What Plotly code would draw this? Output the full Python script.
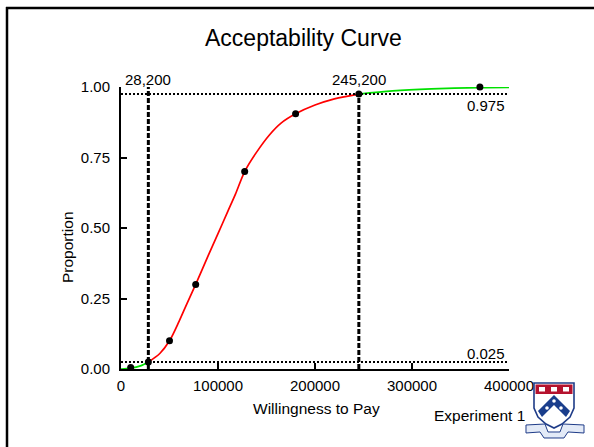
import plotly.graph_objects as go

# ---------------- data ----------------
# fitted acceptability curve
curve_x = [0, 10000, 20000, 28200, 40000, 50000, 60000, 68000, 77000, 90000,
           100000, 110000, 118000, 127500, 140000, 153000, 165000, 180000,
           200000, 220000, 245200, 280000, 320000, 370000, 400000]
curve_y = [0.0, 0.003, 0.011, 0.025, 0.055, 0.10, 0.17, 0.232, 0.30, 0.403,
           0.48, 0.558, 0.62, 0.70, 0.77, 0.83, 0.872, 0.905,
           0.936, 0.958, 0.975, 0.986, 0.993, 0.998, 0.999]
# observed points
pts_x = [10000, 28200, 50000, 77000, 127500, 180000, 245200, 370000]
pts_y = [0.005, 0.025, 0.10, 0.30, 0.70, 0.905, 0.975, 1.0]
# thresholds
lo_x, hi_x = 28200, 245200
lo_p, hi_p = 0.025, 0.975
lo_label, hi_label = "28,200", "245,200"
x_ticks = [0, 100000, 200000, 300000, 400000]
y_ticks = [0.0, 0.25, 0.50, 0.75, 1.00]
y_tick_text = ["0.00", "0.25", "0.50", "0.75", "1.00"]

FONT = "Arial, Liberation Sans, sans-serif"
W, H = 594, 447
ML, MR, MT, MB = 121, 85, 87, 78
X0, X1, Y0, Y1 = ML, W - MR, H - MB, MT


def px(v):
    return (v - X0) / (X1 - X0)


def py(v):
    return (Y0 - v) / (Y0 - Y1)


def path(points, close=True):
    s = "M " + " L ".join(f"{px(a):.5f},{py(b):.5f}" for a, b in points)
    return s + (" Z" if close else "")


fig = go.Figure()

# split curve into green / red / green
i_lo = curve_x.index(lo_x)
i_hi = curve_x.index(hi_x)
segs = [(0, i_lo, "#00e000"), (i_lo, i_hi, "#ff0000"), (i_hi, len(curve_x) - 1, "#00e000")]
for a, b, col in segs:
    fig.add_trace(go.Scatter(x=curve_x[a:b + 1], y=curve_y[a:b + 1], mode="lines",
                             line=dict(color=col, width=1.7, shape="spline", smoothing=0.9),
                             cliponaxis=False, hoverinfo="skip", showlegend=False))

# dotted horizontal probability lines
for p in (lo_p, hi_p):
    fig.add_trace(go.Scatter(x=[x_ticks[0], x_ticks[-1]], y=[p, p], mode="lines",
                             line=dict(color="black", width=2, dash="2px,2px"),
                             hoverinfo="skip", showlegend=False))

# dashed vertical threshold lines
fig.add_trace(go.Scatter(x=[lo_x, lo_x], y=[0, 1.0], mode="lines",
                         line=dict(color="black", width=3, dash="5px,2px"),
                         hoverinfo="skip", showlegend=False))
fig.add_trace(go.Scatter(x=[hi_x, hi_x], y=[0, hi_p], mode="lines",
                         line=dict(color="black", width=3, dash="5px,2px"),
                         hoverinfo="skip", showlegend=False))

# points
fig.add_trace(go.Scatter(x=pts_x, y=pts_y, mode="markers",
                         marker=dict(color="black", size=7), cliponaxis=False,
                         hoverinfo="skip", showlegend=False))


def txt(x, y, s, size=15, ref="paper", **kw):
    d = dict(x=x, y=y, text=s, xref=ref, yref=ref, showarrow=False,
             xanchor="center", yanchor="middle",
             font=dict(size=size, family=FONT, color="black"))
    d.update(kw)
    return d


annots = [
    txt(lo_x, 1.0, lo_label, ref="x", yshift=8),
    txt(hi_x, 1.0, hi_label, ref="x", yshift=8),
    txt(px(486), py(105), f"{hi_p:.3f}"),
    txt(px(486), py(353), f"{lo_p:.3f}"),
    txt(px(303), py(38), "Acceptability Curve", size=23),
    txt(px(316), py(408), "Willingness to Pay", size=15.5),
    txt(px(68), py(247), "Proportion", size=15.5, textangle=-90),
    txt(px(479), py(415), "Experiment 1", size=15.5),
]
annots[0]["yref"] = "y"
annots[1]["yref"] = "y"

shapes = [
    # slide frame
    dict(type="line", xref="paper", yref="paper", x0=px(7), x1=px(7), y0=py(7), y1=py(460),
         line=dict(color="black", width=2.5)),
    dict(type="line", xref="paper", yref="paper", x0=px(6), x1=px(600), y0=py(8), y1=py(8),
         line=dict(color="black", width=2.5)),
    # logo: ribbon
    dict(type="path", xref="paper", yref="paper", layer="above",
         path=path([(526, 425), (545, 424), (548, 432), (560, 432), (563, 424), (584, 425),
                    (584, 433), (568, 432), (564, 438), (544, 438), (540, 432), (526, 433)]),
         fillcolor="#e3eaf7", line=dict(color="#1f3c88", width=1)),
    # logo: shield
    dict(type="path", xref="paper", yref="paper", layer="above",
         path=path([(534, 383), (574, 383), (574, 408), (570, 417), (562, 424), (554, 428),
                    (546, 424), (538, 417), (534, 408)]),
         fillcolor="white", line=dict(color="#1f3c88", width=1.6)),
    dict(type="path", xref="paper", yref="paper", layer="above",
         path=path([(535.5, 384.5), (572.5, 384.5), (572.5, 394), (535.5, 394)]),
         fillcolor="#b5122e", line=dict(width=0)),
    # logo: chevron
    dict(type="path", xref="paper", yref="paper", layer="above",
         path=path([(554, 395), (570, 411), (566, 417), (554, 405), (542, 417), (538, 411)]),
         fillcolor="#1a3e8c", line=dict(width=0)),
]
for cx, cy in [(554, 401), (547, 408), (561, 408)]:
    shapes.append(dict(type="circle", xref="paper", yref="paper", layer="above",
                       x0=px(cx - 1.8), x1=px(cx + 1.8), y0=py(cy + 1.8), y1=py(cy - 1.8),
                       fillcolor="white", line=dict(width=0)))
for bx in (539, 551, 563):
    shapes.append(dict(type="rect", xref="paper", yref="paper", layer="above",
                       x0=px(bx), x1=px(bx + 6), y0=py(391.5), y1=py(387),
                       fillcolor="white", line=dict(width=0)))

fig.update_layout(
    width=W, height=H,
    margin=dict(l=ML, r=MR, t=MT, b=MB, autoexpand=False),
    paper_bgcolor="white", plot_bgcolor="white",
    font=dict(family=FONT, size=15, color="black"),
    annotations=annots, shapes=shapes,
    xaxis=dict(range=[0, 400000], tickvals=x_ticks, ticktext=[str(v) for v in x_ticks],
               showgrid=False, zeroline=False, showline=True, linecolor="black", linewidth=2,
               ticks="inside", ticklen=6, tickwidth=1.5, tickcolor="black",
               tickfont=dict(size=15, family=FONT, color="black"), ticklabelstandoff=2),
    yaxis=dict(range=[0, 1.0], tickvals=y_ticks, ticktext=y_tick_text,
               showgrid=False, zeroline=False, showline=True, linecolor="black", linewidth=2,
               ticks="inside", ticklen=6, tickwidth=1.5, tickcolor="black",
               tickfont=dict(size=15, family=FONT, color="black"), ticklabelstandoff=6),
)

fig.write_html("out.html", config={"displayModeBar": False},
               post_script="document.body.style.margin='0px';")
